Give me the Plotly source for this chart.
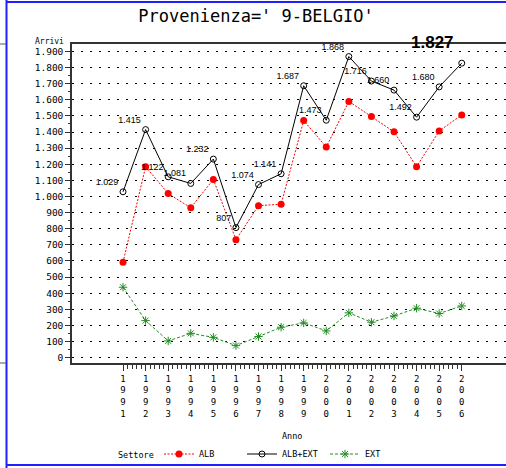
import plotly.graph_objects as go

# Arrivi da Belgio per anno e settore
anni = list(range(1991, 2007))
alb_ext = [1029, 1415, 1122, 1081, 1232, 807, 1074, 1141, 1687, 1473, 1868, 1716, 1660, 1492, 1680, 1827]
ext = [437, 230, 104, 151, 126, 75, 131, 189, 216, 166, 278, 220, 259, 307, 274, 321]
alb = [t - e for t, e in zip(alb_ext, ext)]

y_ticks = list(range(0, 2000, 100))
x_ticktext = ["<br>".join(str(a)) for a in anni]

W, H = 506, 468
L, R, T, B = 72, 0, 44, 105
PW, PH = W - L - R, H - T - B


def px_x(p):
    return (p - L) / PW


def px_y(q):
    return (H - B - q) / PH


def fmt(v):
    return f"{v:,}".replace(",", ".")


mono = "DejaVu Sans Mono, Liberation Mono, monospace"
sans = "Liberation Sans, Arial, sans-serif"

labels = [fmt(v) for v in alb_ext]
labels[-1] = ""

fig = go.Figure()
fig.add_trace(go.Scatter(
    x=anni, y=alb, name="ALB", mode="lines+markers", legend="legend",
    line=dict(color="#ff0000", width=1, dash="2px,1.5px"),
    marker=dict(symbol="circle", size=7, color="#ff0000"),
))
fig.add_trace(go.Scatter(
    x=anni, y=alb_ext, name="ALB+EXT", mode="lines+markers+text", legend="legend2",
    line=dict(color="black", width=1),
    marker=dict(symbol="circle-open", size=6, color="black", line=dict(width=1)),
    text=labels, textposition="top left",
    textfont=dict(family=sans, size=9, color="black"),
))
fig.add_trace(go.Scatter(
    x=anni, y=ext, name="EXT", mode="lines+markers", legend="legend3",
    line=dict(color="#228b22", width=1, dash="3px,2px"),
    marker=dict(symbol="asterisk-open", size=7, color="#228b22",
                line=dict(width=1, color="#228b22")),
))

fig.add_annotation(x=2006, y=alb_ext[-1], text="<b>" + fmt(alb_ext[-1]) + "</b>",
                   showarrow=False, xshift=-29, yshift=21,
                   font=dict(family=sans, size=17, color="black"))
fig.add_annotation(xref="paper", yref="paper", x=px_x(49), y=px_y(41), text="Arrivi",
                   xanchor="center", yanchor="middle",
                   showarrow=False, font=dict(family=mono, size=8, color="black"))
fig.add_annotation(xref="paper", yref="paper", x=px_x(292), y=px_y(436), text="Anno",
                   xanchor="center", yanchor="middle",
                   showarrow=False, font=dict(family=mono, size=8.5, color="black"))
fig.add_annotation(xref="paper", yref="paper", x=px_x(136), y=px_y(455), text="Settore",
                   xanchor="center", yanchor="middle",
                   showarrow=False, font=dict(family=mono, size=8.5, color="black"))

blue = "#1f1fff"
fig.add_shape(type="line", xref="paper", yref="paper", x0=px_x(6.5), x1=1.01,
              y0=px_y(2), y1=px_y(2), line=dict(color=blue, width=2))
fig.add_shape(type="line", xref="paper", yref="paper", x0=px_x(6.5), x1=1.01,
              y0=px_y(465), y1=px_y(465), line=dict(color=blue, width=2))
fig.add_shape(type="line", xref="paper", yref="paper", x0=px_x(6.5), x1=px_x(6.5),
              y0=px_y(-2), y1=px_y(470), line=dict(color=blue, width=2))
for yy in (0, 1):
    fig.add_shape(type="line", xref="paper", yref="paper", x0=px_x(-2), x1=px_x(6),
                  y0=yy, y1=yy, line=dict(color="#555555", width=1))

legend_style = dict(orientation="h", xanchor="left", y=px_y(454), yanchor="middle",
                    font=dict(family=mono, size=8.5, color="black"),
                    itemwidth=30, bgcolor="rgba(0,0,0,0)")

fig.update_layout(
    width=W, height=H,
    margin=dict(l=L, r=R, t=T, b=B, autoexpand=False),
    paper_bgcolor="white", plot_bgcolor="white",
    separators=",.",
    title=dict(text="Provenienza=' 9-BELGIO'", xref="container", x=256 / W, xanchor="center",
               yref="container", y=1 - 16 / H, yanchor="middle",
               font=dict(family=mono, size=17, color="black")),
    showlegend=True,
    legend=dict(x=px_x(159), **legend_style),
    legend2=dict(x=px_x(242), **legend_style),
    legend3=dict(x=px_x(325), **legend_style),
)
fig.update_xaxes(
    range=[1988.74, 2007.96], tickmode="array", tickvals=anni, ticktext=x_ticktext,
    ticks="outside", ticklen=6, tickwidth=1, tickcolor="#333333",
    tickfont=dict(family=mono, size=9, color="black"),
    showline=True, linecolor="#333333", linewidth=1.5, mirror=True,
    showgrid=False, zeroline=False,
    minor=dict(tickmode="array", tickvals=[1991 + k * 0.2 for k in range(76) if k % 5],
               ticks="outside", ticklen=4, tickcolor="#333333", showgrid=False),
)
fig.update_yaxes(
    range=[-33, 1946], tickmode="array", tickvals=y_ticks, tickformat=",d",
    ticks="outside", ticklen=5, tickwidth=1, tickcolor="#333333",
    tickfont=dict(family=mono, size=9.5, color="black"),
    showline=True, linecolor="#333333", linewidth=1.5,
    showgrid=True, gridcolor="black", gridwidth=1, griddash="1.5px,7.5px",
    zeroline=False,
    minor=dict(tickmode="array", tickvals=[v + 50 for v in y_ticks[:-1]],
               ticks="outside", ticklen=2, tickcolor="#333333", showgrid=False),
)

fig.write_html("out.html", config={"displayModeBar": False},
               post_script="document.body.style.margin='0';")
